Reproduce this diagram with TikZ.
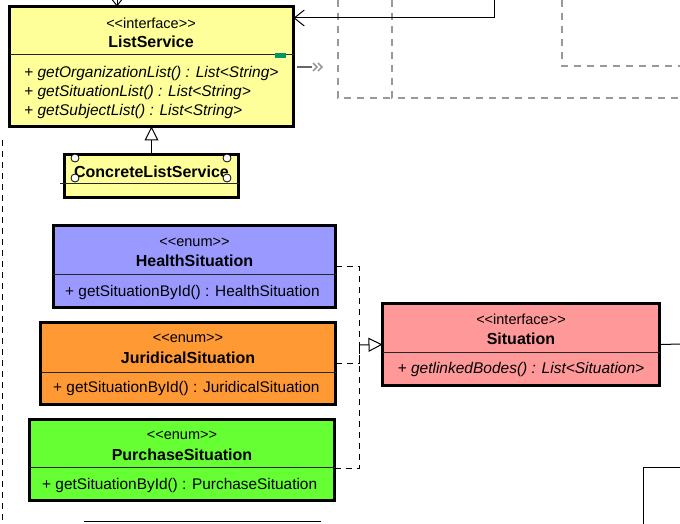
\documentclass[tikz,border=0pt]{standalone}
\usepackage{fontspec}
\newfontfamily\umlfont{Liberation Sans}
\usetikzlibrary{arrows.meta}
\definecolor{cyellow}{HTML}{FFFF99}
\definecolor{cblue}{HTML}{9999FF}
\definecolor{corange}{HTML}{FF9933}
\definecolor{cgreen}{HTML}{66FF33}
\definecolor{cpink}{HTML}{FF9999}
\definecolor{cmark}{HTML}{009966}
\definecolor{cgray}{HTML}{999999}
\begin{document}
\begin{tikzpicture}[x=1pt,y=-1pt,
  umlbox/.style={draw=black, line width=3pt, rectangle, anchor=north west, inner sep=0pt, outer sep=0pt},
  sep/.style={line width=1pt, draw=black!85},
  stereo/.style={font=\umlfont\fontsize{14.5}{16}\selectfont, inner sep=0pt},
  cname/.style={font=\umlfont\fontsize{16}{18}\selectfont\bfseries, inner sep=0pt},
  meth/.style={font=\umlfont\fontsize{15.4}{17}\selectfont, inner sep=0pt},
  imeth/.style={font=\umlfont\fontsize{15.5}{17}\selectfont\itshape, inner sep=0pt},
  blackdash/.style={draw=black, line width=1pt, dash pattern=on 6pt off 5pt},
  graydash/.style={draw=cgray, line width=1.2pt, dash pattern=on 7pt off 6pt},
  handle/.style={circle, draw=black, fill=white, line width=0.8pt, minimum size=8pt, inner sep=0pt},
  gentri/.style={-{Triangle[open, length=14pt, width=14pt, line width=1pt]}, line width=1pt},
  barb/.style={-{Straight Barb[length=10pt, width=16pt, line width=1pt]}, line width=1pt}
]
\useasboundingbox (0,0) rectangle (680,524);
\clip (0,0) rectangle (680,524);

% gray dashed background lines
\coordinate (g1a) at (338,0);
\coordinate (g1b) at (392,98);
\coordinate (g2a) at (392,0);
\coordinate (g2b) at (680,98);
\coordinate (g3a) at (562,0);
\coordinate (g3b) at (680,66);
\draw[graydash] (g1a) |- (g1b);
\draw[graydash] (g2a) |- (g2b);
\draw[graydash] (g3a) |- (g3b);

% left black dashed line
\coordinate (l1) at (2,140);
\coordinate (l2) at (2,530);
\draw[blackdash] (l1) -- (l2);

% ListService
\node[umlbox, fill=cyellow, minimum width=284pt, minimum height=120pt] (ls) at (9.5,6.5) {};
\draw[sep] (9.5,55) -- (293.5,55);
\fill[cmark] (275,53) rectangle (286,58);
\node[stereo] (lsst) at (151,23) {<<interface>>};
\node[cname] (lsn) at (151,41.5) {ListService};
\node[imeth, anchor=west] (lsm1) at (24,73.5) {+ getOrganizationList() : List<String>};
\node[imeth, anchor=west] (lsm2) at (24,92.5) {+ getSituationList() : List<String>};
\node[imeth, anchor=west] (lsm3) at (24,111.5) {+ getSubjectList() : List<String>};

% arrow from top right into ListService
\coordinate (tr) at (494,-2);
\draw[barb] (tr) |- (ls.east |- 0,18);
% arrow from top into ListService
\coordinate (tt) at (117,-20);
\draw[barb] (tt) -- (ls.north -| tt);

% small gray chevron
\coordinate (cv1) at (297,67);
\coordinate (cv2) at (312,67);
\draw[line width=1.3pt, draw=black!60] (cv1) -- (cv2);
\draw[line width=1.6pt, draw=cgray] (313,63) -- (317,67) -- (313,71);
\draw[line width=1.6pt, draw=cgray] (318,63) -- (322,67) -- (318,71);

% ConcreteListService
\node[umlbox, fill=cyellow, minimum width=174pt, minimum height=43pt] (cls) at (64.5,154.5) {};
\draw[sep] (60,183) -- (238.5,183);
\node[cname] (clsn) at (151.5,171.5) {ConcreteListService};
\node[handle] (h1) at (75,158) {};
\node[handle] (h2) at (227,158) {};
\node[handle] (h3) at (75,178) {};
\node[handle] (h4) at (227,178) {};
\draw[gentri] (cls.north) -- (ls.south);

% HealthSituation
\node[umlbox, fill=cblue, minimum width=282pt, minimum height=82pt] (hs) at (53.5,225.5) {};
\draw[sep] (53.5,274) -- (335.5,274);
\node[stereo] (hsst) at (194.5,242) {<<enum>>};
\node[cname] (hsn) at (194.5,260.5) {HealthSituation};
\node[meth, anchor=west] (hsm) at (65,292.5) {+ getSituationById() : HealthSituation};

% JuridicalSituation
\node[umlbox, fill=corange, minimum width=295pt, minimum height=82pt] (js) at (40.5,322.5) {};
\draw[sep] (40.5,372) -- (335.5,372);
\node[stereo] (jsst) at (188,338) {<<enum>>};
\node[cname] (jsn) at (188,357.5) {JuridicalSituation};
\node[meth, anchor=west] (jsm) at (53,388.5) {+ getSituationById() : JuridicalSituation};

% PurchaseSituation
\node[umlbox, fill=cgreen, minimum width=305pt, minimum height=81pt] (ps) at (29.5,419.5) {};
\draw[sep] (29.5,467) -- (334.5,467);
\node[stereo] (psst) at (182,435) {<<enum>>};
\node[cname] (psn) at (182,454.5) {PurchaseSituation};
\node[meth, anchor=west] (psm) at (42,485.5) {+ getSituationById() : PurchaseSituation};

% Situation
\node[umlbox, fill=cpink, minimum width=277pt, minimum height=82pt] (sit) at (382.5,303.5) {};
\draw[sep] (382.5,352) -- (659.5,352);
\node[stereo] (sitst) at (521,319) {<<interface>>};
\node[cname] (sitn) at (521,338.5) {Situation};
\node[imeth] (sitm) at (521,369.5) {+ getlinkedBodes() : List<Situation>};

% realization connectors
\coordinate (j) at (359,345);
\draw[blackdash] (hs.east) -| (j);
\draw[blackdash] (js.east) -| (j);
\draw[blackdash] (ps.east |- 0,468) -| (j);
\draw[gentri] (j) -- (sit.west);

% line to the right of Situation
\coordinate (re) at (682,344);
\draw[line width=1pt] (sit.east) -- (re);

% partial boxes at the bottom
\coordinate (br1) at (643,530);
\coordinate (br2) at (682,467);
\draw[line width=1pt] (br1) |- (br2);
\coordinate (bl1) at (84,521);
\coordinate (bl2) at (321,521);
\draw[line width=1pt] (bl1) -- (bl2);
\end{tikzpicture}
\end{document}
